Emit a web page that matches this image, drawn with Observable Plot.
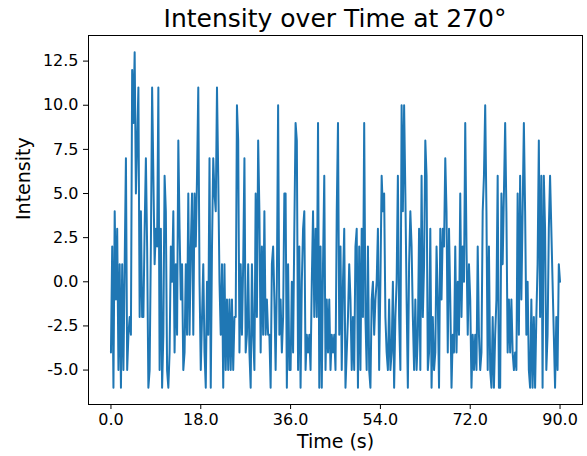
<!DOCTYPE html>
<html>
<head>
<meta charset="utf-8">
<script src="https://cdn.jsdelivr.net/npm/d3@7"></script>
<script src="https://cdn.jsdelivr.net/npm/@observablehq/plot@0.6"></script>
<style>
  html, body { margin: 0; padding: 0; background: #fff; }
  #title { width: 494px; margin-left: 88px; height: 28px; line-height: 38px; text-align: center; overflow: visible;
           font-family: "DejaVu Sans", sans-serif; font-size: 25px; color: #000; white-space: nowrap; }
</style>
</head>
<body>
<div id="title">Intensity over Time at 270°</div>
<div id="chart"></div>
<script>
// Sample spacing (seconds) and intensity readings per 5-second window
const timeStep = 0.25;
const t0to5   = [-4,2,-6,4,-1,3,-5,1,-6,1,-5,1,7,-5,-3,-2,-3,12,9,13];
const t5to10  = [5,8,11,-2,4,-2,-2,3,7,2,-6,-5,2,11,6,1,3,2,11,-5];
const t10to15 = [3,-6,-3,6,4,-5,-6,-4,2,0,4,-4,1,-3,8,3,-1,1,-5,-4];
const t15to20 = [1,-3,5,-3,2,5,-3,5,2,6,11,0,-5,-2,1,-4,-6,0,-3,7];
const t20to25 = [-6,2,7,5,4,11,6,0,-3,1,-6,1,-5,-1,-5,-1,-5,-1,-5,-2];
const t25to30 = [-2,10,8,-4,1,-3,1,7,-4,-3,1,-4,-6,1,-3,-5,5,-2,8,4];
const t30to35 = [-4,2,-3,4,-3,-1,-3,-3,-6,1,2,-1,-5,0,10,-3,-1,-4,-2,5];
const t35to40 = [5,-6,1,-5,-5,0,-4,3,9,8,-5,2,-6,0,3,4,-5,-3,-4,-3];
const t40to45 = [-5,0,4,-2,3,-2,9,-6,2,-6,1,6,-5,-1,-4,-1,-5,-3,-4,-3];
const t45to50 = [-5,4,9,-3,2,-5,0,3,-6,-4,-2,1,-1,-5,-2,-5,2,3,-6,2];
const t50to55 = [-5,3,-2,9,-2,-5,2,-5,-6,-1,0,-3,-1,0,3,-5,0,6,4,5];
const t55to60 = [-2,-4,-5,-1,-5,-4,0,-6,-2,0,6,-2,-5,10,4,10,5,-1,-6,1];
const t60to65 = [4,2,-2,-5,-1,-5,-3,3,-5,6,-2,1,8,6,-5,-4,3,-6,-2,-5];
const t65to70 = [-4,2,-1,-6,3,-1,3,2,7,4,-4,3,-1,-6,-3,-4,2,-4,0,-3];
const t70to75 = [5,-2,2,0,9,2,-3,1,-1,-6,-3,-5,-3,-5,2,-3,-5,-4,4,6];
const t75to80 = [10,4,-5,2,-5,-6,-2,-6,-3,-1,6,-6,-6,5,1,5,9,4,-4,-1];
const t80to85 = [-4,-1,-4,-5,-4,-5,5,-3,6,-1,4,9,4,-3,0,-5,-6,-1,-6,-2];
const t85to90 = [-6,-2,1,8,-2,6,-6,6,3,-5,-3,3,6,3,0,-3,-6,-2,-5,1,0];

const xTicks = [0, 18, 36, 54, 72, 90];
const yTicks = [-5, -2.5, 0, 2.5, 5, 7.5, 10, 12.5];

const intensity = [].concat(t0to5, t5to10, t10to15, t15to20, t20to25, t25to30, t30to35,
  t35to40, t40to45, t45to50, t50to55, t55to60, t60to65, t65to70, t70to75, t75to80, t80to85, t85to90);
const data = intensity.map((v, i) => ({time: i * timeStep, value: v}));

const fmt = d => d.toFixed(1);
const chart = Plot.plot({
  width: 587,
  height: 428,
  marginTop: 7,
  marginBottom: 52,
  marginLeft: 88,
  marginRight: 5,
  style: {fontFamily: "DejaVu Sans, sans-serif", fontSize: "16px", color: "#000", background: "#fff", overflow: "visible"},
  x: {domain: [-4.5, 94.5]},
  y: {domain: [-6.95, 13.95]},
  marks: [
    Plot.line(data, {x: "time", y: "value", stroke: "#1f77b4", strokeWidth: 2}),
    Plot.frame({stroke: "#000", strokeWidth: 1}),
    Plot.axisX({ticks: xTicks, tickFormat: fmt, tickSize: 5, tickPadding: 4, label: null, fontSize: 16}),
    Plot.axisY({ticks: yTicks, tickFormat: fmt, tickSize: 5, tickPadding: 5, label: null, fontSize: 16}),
    Plot.text(["Time (s)"], {frameAnchor: "bottom", dy: 43, fontSize: 19, fill: "#000"}),
    Plot.text(["Intensity"], {frameAnchor: "left", dx: -65, rotate: -90, fontSize: 19, fill: "#000"})
  ]
});
document.getElementById("chart").appendChild(chart);
</script>
</body>
</html>
